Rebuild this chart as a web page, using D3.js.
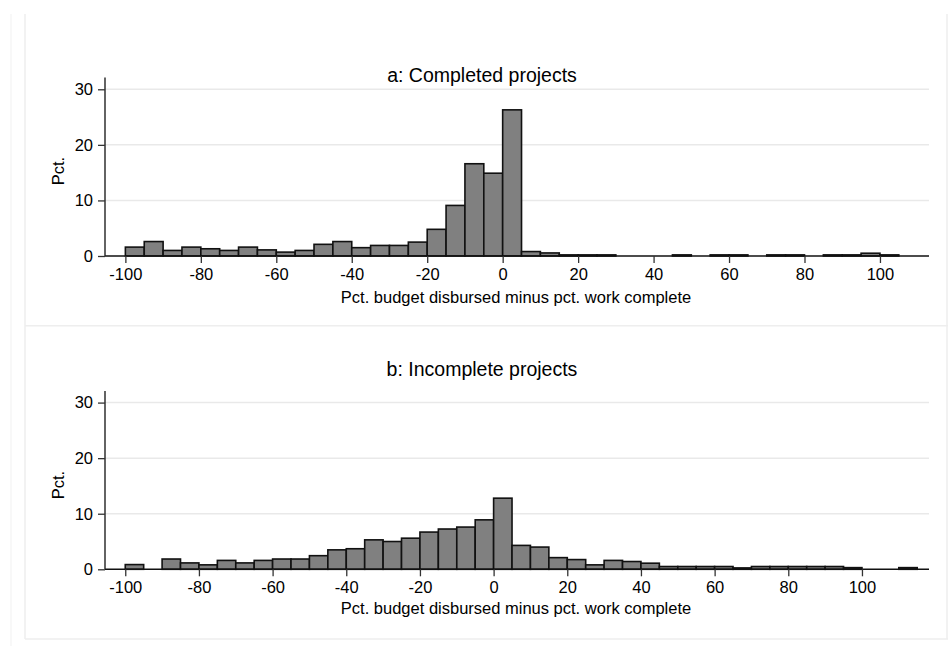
<!DOCTYPE html>
<html>
<head>
<meta charset="utf-8">
<script src="https://cdn.jsdelivr.net/npm/d3@7"></script>
<style>
  html, body { margin: 0; padding: 0; background: #fff; }
  svg { display: block; font-family: "Liberation Sans", Arial, Helvetica, sans-serif; }
</style>
</head>
<body>
<svg id="chart" width="948" height="646"></svg>
<script>
// Histogram bins are 5 points wide; each entry is the left edge of a bin.
const binWidth = 5;

// a: Completed projects — bin starts and percentage of projects in each bin
const completedBins = [-100, -95, -90, -85, -80, -75, -70, -65, -60, -55, -50, -45, -40, -35, -30, -25,
  -20, -15, -10, -5, 0, 5, 10, 15, 20, 25, 30, 35, 40, 45, 50, 55, 60, 65, 70, 75, 80, 85, 90, 95, 100];
const completedPct = [1.6, 2.6, 1.0, 1.6, 1.3, 1.0, 1.6, 1.1, 0.7, 1.0, 2.1, 2.6, 1.5, 1.9, 1.9, 2.5,
  4.8, 9.1, 16.6, 14.9, 26.3, 0.8, 0.55, 0.2, 0.2, 0.2, 0, 0, 0, 0.2, 0, 0.2, 0.2, 0, 0.2, 0.2, 0, 0.2, 0.2, 0.5, 0.2];

// b: Incomplete projects
const incompleteBins = [-100, -95, -90, -85, -80, -75, -70, -65, -60, -55, -50, -45, -40, -35, -30, -25,
  -20, -15, -10, -5, 0, 5, 10, 15, 20, 25, 30, 35, 40, 45, 50, 55, 60, 65, 70, 75, 80, 85, 90, 95, 100, 105, 110];
const incompletePct = [0.85, 0, 1.85, 1.15, 0.8, 1.6, 1.15, 1.6, 1.85, 1.85, 2.45, 3.5, 3.7, 5.3, 5.0, 5.6,
  6.7, 7.25, 7.6, 8.9, 12.8, 4.3, 4.0, 2.1, 1.75, 0.8, 1.6, 1.4, 1.1, 0.5, 0.5, 0.5, 0.5, 0.25, 0.5, 0.5, 0.5, 0.5, 0.5, 0.3, 0, 0, 0.3];

// Axis ranges and tick values
const xDomainA = [-105.4, 113];
const xDomainB = [-105.5, 118.2];
const yDomain = [0, 32.1];
const xTicks = [-100, -80, -60, -40, -20, 0, 20, 40, 60, 80, 100];
const yTicks = [0, 10, 20, 30];

const titles = ["a: Completed projects", "b: Incomplete projects"];
const xLabel = "Pct. budget disbursed minus pct. work complete";
const yLabel = "Pct.";

const svg = d3.select("#chart");

// Outer frame of the two-panel figure
const frame = svg.append("g").attr("fill", "none");
frame.append("line").attr("x1", 11).attr("x2", 11).attr("y1", 14).attr("y2", 646)
  .attr("stroke", "#f3f3f3").attr("stroke-width", 1.2);
frame.append("line").attr("x1", 25).attr("x2", 25).attr("y1", 14).attr("y2", 639)
  .attr("stroke", "#eeeeee").attr("stroke-width", 1.5);
frame.append("line").attr("x1", 947).attr("x2", 947).attr("y1", 14).attr("y2", 639)
  .attr("stroke", "#eeeeee").attr("stroke-width", 1.5);
frame.append("line").attr("x1", 25).attr("x2", 948).attr("y1", 325.7).attr("y2", 325.7)
  .attr("stroke", "#eeeeee").attr("stroke-width", 1.5);
frame.append("line").attr("x1", 25).attr("x2", 948).attr("y1", 639).attr("y2", 639)
  .attr("stroke", "#eeeeee").attr("stroke-width", 1.5);

const plotLeft = 105, plotRight = 929;

function panel(bins, pct, xDomain, baseY, title, titleY, xLabelY, yLabelY) {
  const x = d3.scaleLinear().domain(xDomain).range([plotLeft, plotRight]);
  const y = d3.scaleLinear().domain(yDomain).range([baseY, baseY - 5.557 * yDomain[1]]);
  const g = svg.append("g");

  // gridlines
  g.append("g").selectAll("line").data(yTicks.filter(d => d > 0)).join("line")
    .attr("x1", plotLeft).attr("x2", plotRight)
    .attr("y1", d => y(d)).attr("y2", d => y(d))
    .attr("stroke", "#e9e9e9").attr("stroke-width", 1.5);

  // bars
  const data = bins.map((b, i) => ({ x0: b, x1: b + binWidth, v: pct[i] })).filter(d => d.v > 0);
  g.append("g").selectAll("rect").data(data).join("rect")
    .attr("x", d => x(d.x0))
    .attr("width", d => x(d.x1) - x(d.x0))
    .attr("y", d => y(d.v))
    .attr("height", d => y(0) - y(d.v))
    .attr("fill", "#808080")
    .attr("stroke", "#111")
    .attr("stroke-width", 1.6);

  // x axis
  const xAxis = g.append("g").attr("transform", `translate(0,${y(0)})`)
    .call(d3.axisBottom(x).tickValues(xTicks).tickSize(7).tickPadding(5).tickFormat(d3.format("d")));
  xAxis.select(".domain").attr("d", `M${plotLeft},0H${plotRight}`).attr("stroke", "#111").attr("stroke-width", 1.6);
  xAxis.selectAll(".tick line").attr("stroke", "#333").attr("stroke-width", 1.3);
  xAxis.selectAll(".tick text").attr("font-size", 16.5).attr("fill", "#000")
    .attr("font-family", "Liberation Sans, Arial, sans-serif")
    .text(d => d < 0 ? "-" + Math.abs(d) : d);

  // y axis
  const yAxis = g.append("g").attr("transform", `translate(${plotLeft},0)`)
    .call(d3.axisLeft(y).tickValues(yTicks).tickSize(7).tickPadding(5).tickFormat(d3.format("d")));
  yAxis.select(".domain").attr("d", `M0,${y(yDomain[1])}V${y(0)}`).attr("stroke", "#222").attr("stroke-width", 1.4);
  yAxis.selectAll(".tick line").attr("stroke", "#333").attr("stroke-width", 1.3);
  yAxis.selectAll(".tick text").attr("font-size", 16.5).attr("fill", "#000")
    .attr("font-family", "Liberation Sans, Arial, sans-serif");

  // titles
  g.append("text").attr("x", 482).attr("y", titleY).attr("text-anchor", "middle")
    .attr("font-size", 19.5).attr("fill", "#000").text(title);
  g.append("text").attr("x", 516).attr("y", xLabelY).attr("text-anchor", "middle")
    .attr("font-size", 16.5).attr("fill", "#000").text(xLabel);
  g.append("text").attr("transform", `translate(64,${yLabelY}) rotate(-90)`).attr("text-anchor", "middle")
    .attr("font-size", 16.5).attr("fill", "#000").text(yLabel);
}

panel(completedBins, completedPct, xDomainA, 256, titles[0], 82, 303, 171);
panel(incompleteBins, incompletePct, xDomainB, 569.3, titles[1], 376, 614, 485);
</script>
</body>
</html>
